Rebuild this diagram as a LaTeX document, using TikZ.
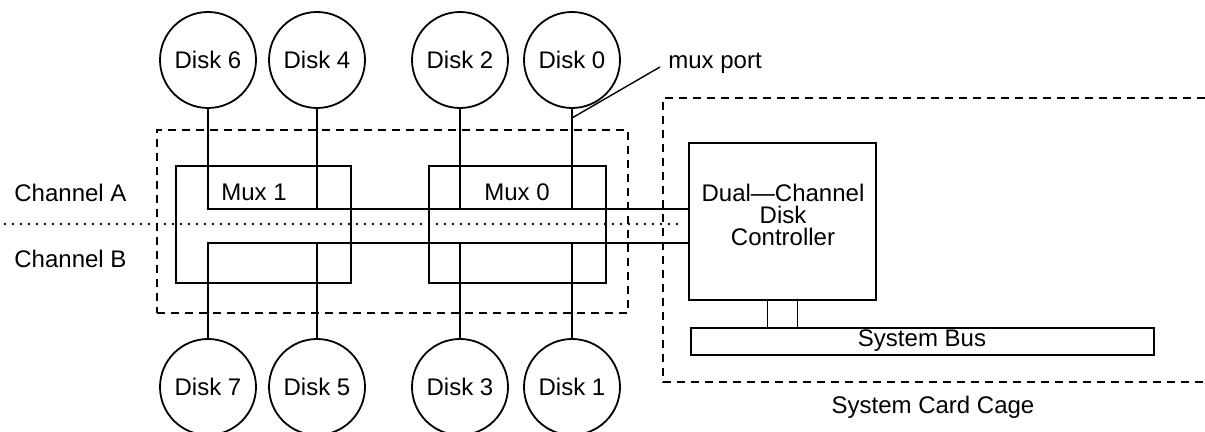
\documentclass[tikz,border=0pt]{standalone}
\usepackage{fontspec}
\setmainfont{Liberation Sans}
\usetikzlibrary{fit}

\begin{document}
\begin{tikzpicture}[
  x=0.5pt, y=-0.5pt,
  every node/.style={font=\fontsize{12}{14}\selectfont},
  wire/.style={line width=0.9pt},
  disk/.style={circle, draw, line width=0.9pt, minimum size=48pt, inner sep=0pt},
  muxbox/.style={draw, line width=0.9pt, inner sep=0pt},
  box/.style={draw, line width=0.9pt, inner sep=0pt},
  grp/.style={draw, line width=0.9pt, dash pattern=on 4pt off 3pt, inner sep=0pt},
  cage/.style={line width=0.9pt, dash pattern=on 4pt off 3pt},
  dots/.style={line width=1.4pt, dash pattern=on 0pt off 4pt, line cap=round},
  lbl/.style={inner sep=1pt}
]
\useasboundingbox (0,0) rectangle (1205,432);

% disks
\node[disk] (d6) at (208,60) {Disk 6};
\node[disk] (d4) at (317,60) {Disk 4};
\node[disk] (d2) at (460,60) {Disk 2};
\node[disk] (d0) at (572,60) {Disk 0};
\node[disk] (d7) at (208,387) {Disk 7};
\node[disk] (d5) at (317,387) {Disk 5};
\node[disk] (d3) at (460,387) {Disk 3};
\node[disk] (d1) at (572,387) {Disk 1};

% muxes
\node[grp, fit={(157,130) (628,313)}] (muxgrp) {};
\node[muxbox, fit={(176,166) (351,283)}] (mux1) {};
\node[muxbox, fit={(429,166) (606,283)}] (mux0) {};
\node[lbl] (mux1lbl) at (254,192) {Mux 1};
\node[lbl] (mux0lbl) at (517,192) {Mux 0};

% card cage
\draw[cage] (1205,98) -| (663,382) -- (1205,382);
\node[box, fit={(689,143) (876,300)}] (ctrl) {};
\node[lbl, align=center, font=\fontsize{12}{11}\selectfont] (ctrllbl) at (783,215) {Dual---Channel\\Disk\\Controller};
\node[box, fit={(691,328) (1154,355)}] (bus) {};
\node[lbl] (buslbl) at (922,341) {System Bus};
\node[lbl] (cagelbl) at (933,407) {System Card Cage};
\draw[wire] ([xshift=-7.5pt]ctrl.south) -- ([xshift=-7.5pt]ctrl.south |- bus.north);
\draw[wire] ([xshift=7.5pt]ctrl.south) -- ([xshift=7.5pt]ctrl.south |- bus.north);

% channels
\coordinate (chA) at (0,209);
\coordinate (chB) at (0,243);
\draw[wire] (d6) |- (ctrl.west |- chA);
\draw[wire] (d4) -- (d4 |- chA);
\draw[wire] (d2) -- (d2 |- chA);
\draw[wire] (d0) -- (d0 |- chA);
\draw[wire] (d7) |- (ctrl.west |- chB);
\draw[wire] (d5) -- (d5 |- chB);
\draw[wire] (d3) -- (d3 |- chB);
\draw[wire] (d1) -- (d1 |- chB);

\coordinate (dotL) at (5,224);
\coordinate (dotR) at (680,224);
\draw[dots] (dotL) -- (dotR);
\node[lbl, anchor=west] (chAlbl) at (12,193) {Channel A};
\node[lbl, anchor=west] (chBlbl) at (12,259) {Channel B};

% mux port
\coordinate (port) at (572,118);
\node[lbl, anchor=west] (muxport) at (666,63) {mux port};
\draw[wire, line width=0.7pt] (port) -- ([xshift=-3pt,yshift=-2pt]muxport.west);
\end{tikzpicture}
\end{document}
